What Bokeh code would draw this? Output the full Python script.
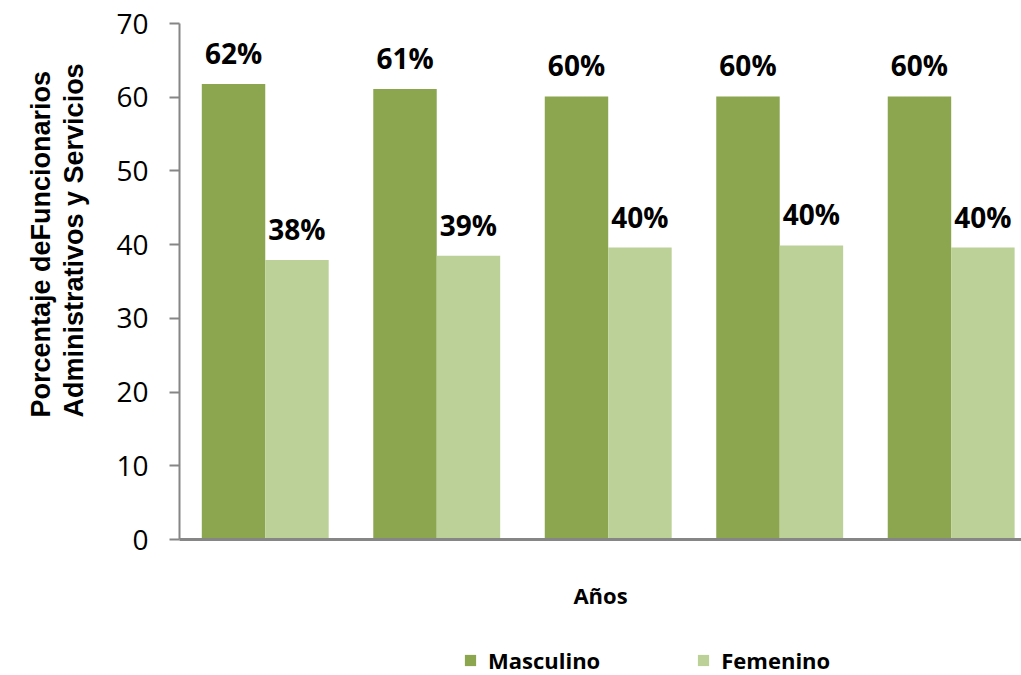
from bokeh.plotting import figure
from bokeh.layouts import column
from bokeh.models import ColumnDataSource, Range1d, Legend, LegendItem, FixedTicker, Title
from bokeh.core.properties import value
from bokeh.embed import file_html
from bokeh.resources import INLINE

# ---- data ----
years = ["1", "2", "3", "4", "5"]
masculino = [61.8, 61.1, 60.1, 60.1, 60.1]
femenino = [37.9, 38.5, 39.6, 39.9, 39.6]
masc_labels = ["62%", "61%", "60%", "60%", "60%"]
fem_labels = ["38%", "39%", "40%", "40%", "40%"]
y_ticks = [0, 10, 20, 30, 40, 50, 60, 70]
series_names = ["Masculino", "Femenino"]

DARK = "#8BA64F"
LIGHT = "#BCD198"
AXIS = "#868686"
BW = 0.37

idx = list(range(len(years)))
src_m = ColumnDataSource(dict(x=[i - BW / 2 for i in idx], top=masculino, lab=masc_labels))
src_f = ColumnDataSource(dict(x=[i + BW / 2 for i in idx], top=femenino, lab=fem_labels))

p = figure(width=1021, height=621, output_backend="svg", toolbar_location=None,
           x_range=Range1d(-0.5, 4.41), y_range=Range1d(0, 70),
           min_border_left=179, min_border_right=0, min_border_top=23, min_border_bottom=82)
p.outline_line_color = None
p.grid.grid_line_color = None

p.vbar(x="x", top="top", width=BW, bottom=0, source=src_m, fill_color=DARK, line_color=None)
p.vbar(x="x", top="top", width=BW, bottom=0, source=src_f, fill_color=LIGHT, line_color=None)

for src in (src_m, src_f):
    p.text(x="x", y="top", text="lab", source=src, text_align="center", text_baseline="middle",
           y_offset=-31, text_font=value("Open Sans"), text_font_style="bold",
           text_font_size="28px", text_color="black")

# y axis
p.yaxis.ticker = FixedTicker(ticks=y_ticks)
p.yaxis.axis_line_color = AXIS
p.yaxis.axis_line_width = 2
p.yaxis.major_tick_line_color = AXIS
p.yaxis.major_tick_line_width = 2
p.yaxis.major_tick_out = 10
p.yaxis.major_tick_in = 0
p.yaxis.minor_tick_line_color = None
p.yaxis.major_label_standoff = 21
p.yaxis.major_label_text_font = "Open Sans"
p.yaxis.major_label_text_font_size = "28px"
p.yaxis.major_label_text_color = "black"

# x axis
p.xaxis.ticker = FixedTicker(ticks=[])
p.xaxis.axis_line_color = AXIS
p.xaxis.axis_line_width = 3
p.xaxis.major_tick_line_color = None
p.xaxis.minor_tick_line_color = None
p.xaxis.major_label_text_font_size = "0px"
p.xaxis.major_label_standoff = 0
p.xaxis.axis_label = "Años"
p.xaxis.axis_label_standoff = 40
p.xaxis.axis_label_text_font = "Open Sans"
p.xaxis.axis_label_text_font_style = "bold"
p.xaxis.axis_label_text_font_size = "22px"
p.xaxis.axis_label_text_color = "black"

# y axis title (two lines)
ytitle = Title(text="Porcentaje deFuncionarios\nAdministrativos y Servicios",
               align="left", vertical_align="top", offset=122, standoff=46,
               text_font="Liberation Sans", text_font_style="bold", text_font_size="27px",
               text_line_height=1.1, text_color="black")
p.add_layout(ytitle, "left")

# legend strip
p2 = figure(width=1021, height=54, output_backend="svg", toolbar_location=None,
            x_range=Range1d(0, 1), y_range=Range1d(0, 1),
            x_axis_type=None, y_axis_type=None,
            min_border_left=0, min_border_right=0, min_border_top=0, min_border_bottom=0)
p2.outline_line_color = None
p2.grid.grid_line_color = None
d_m = p2.vbar(x=[0.5], top=[0], bottom=0, width=0, fill_color=DARK, line_color=None)
d_f = p2.vbar(x=[0.5], top=[0], bottom=0, width=0, fill_color=LIGHT, line_color=None)
legend = Legend(items=[LegendItem(label=series_names[0], renderers=[d_m]),
                       LegendItem(label=series_names[1], renderers=[d_f])],
                orientation="horizontal", location=(284, 0),
                label_text_font="Open Sans", label_text_font_style="bold",
                label_text_font_size="22px", label_text_color="black",
                glyph_width=14, glyph_height=14, label_standoff=11, spacing=96,
                padding=0, margin=0, border_line_color=None, background_fill_alpha=0)
p2.add_layout(legend)

layout = column(p, p2, spacing=0)
open("out.html", "w").write(file_html(layout, INLINE))
